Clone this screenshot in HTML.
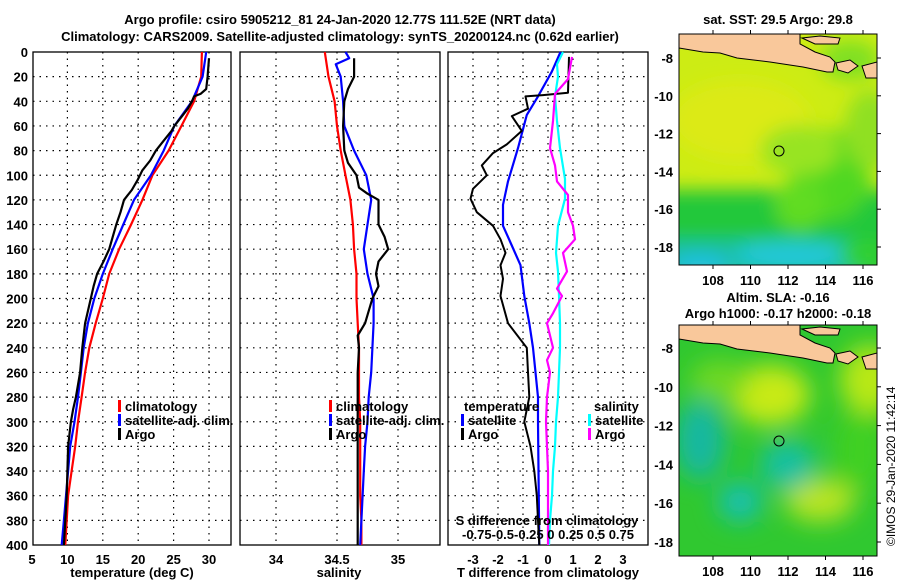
<!DOCTYPE html>
<html><head><meta charset="utf-8">
<style>
html,body{margin:0;padding:0;background:#fff;}
svg{display:block;font-family:"Liberation Sans",Arial,sans-serif;font-weight:bold;}
text{font-size:13px;fill:#000;}
</style></head>
<body>
<svg id="chart" width="900" height="580" viewBox="0 0 900 580">
<defs>
<filter id="blur1" x="-20%" y="-20%" width="140%" height="140%"><feGaussianBlur stdDeviation="9"/></filter>
<filter id="blur2" x="-20%" y="-20%" width="140%" height="140%"><feGaussianBlur stdDeviation="12"/></filter>
<clipPath id="clipMap1"><rect x="679" y="34" width="198" height="231"/></clipPath>
<clipPath id="clipMap2"><rect x="679" y="325" width="198" height="231"/></clipPath>
</defs>
<text x="340" y="24" text-anchor="middle">Argo profile: csiro 5905212_81 24-Jan-2020 12.77S 111.52E (NRT data)</text>
<text x="340" y="41" text-anchor="middle">Climatology: CARS2009. Satellite-adjusted climatology: synTS_20200124.nc (0.62d earlier)</text>

<g id="p1"></g>
<g id="p2"></g>
<g id="p3"></g>

<!-- Map 1 SST -->
<g>
<text x="778" y="24" text-anchor="middle">sat. SST: 29.5 Argo: 29.8</text>
<g clip-path="url(#clipMap1)">
<rect x="679" y="34" width="198" height="231" fill="#cdec14"/>
<g filter="url(#blur1)">
<ellipse cx="740" cy="120" rx="70" ry="40" fill="#dcea18"/>
<rect x="640" y="190" width="280" height="90" fill="#22c83a"/>
<ellipse cx="830" cy="175" rx="40" ry="45" fill="#50d820"/>
<ellipse cx="800" cy="205" rx="25" ry="25" fill="#60dc20"/>
<ellipse cx="800" cy="150" rx="40" ry="25" fill="#98e420"/>
<ellipse cx="870" cy="130" rx="25" ry="40" fill="#90e020"/>
<ellipse cx="850" cy="60" rx="30" ry="20" fill="#80e020"/>
<rect x="660" y="240" width="200" height="40" fill="#18c0a0"/>
<ellipse cx="790" cy="255" rx="55" ry="14" fill="#20c8d8"/>
<ellipse cx="700" cy="265" rx="30" ry="12" fill="#20c0e0"/>
<ellipse cx="865" cy="255" rx="25" ry="15" fill="#30d030"/>
</g>
<path d="M679,34 L800,34 L800,44 L815,52 L830,57 L835,62 L833,72 L827,72 L803,67 L770,62 L737,58 L720,53 L703,52 L679,48 Z" fill="#f9c89b" stroke="#000" stroke-width="1"/>
<path d="M802,38 L820,36 L840,38 L838,44 L815,44 Z" fill="#f9c89b" stroke="#000" stroke-width="1"/>
<path d="M836,63 L850,60 L858,66 L848,73 L838,70 Z" fill="#f9c89b" stroke="#000" stroke-width="1"/>
<path d="M862,66 L877,62 L877,78 L866,78 Z" fill="#f9c89b" stroke="#000" stroke-width="1"/>
</g>
<rect x="679" y="34" width="198" height="231" fill="none" stroke="#000" stroke-width="1"/>
<circle cx="779" cy="151" r="5" fill="none" stroke="#000" stroke-width="1"/>
<g id="m1ticks"></g>
</g>

<!-- Map 2 SLA -->
<g>
<text x="778" y="302" text-anchor="middle">Altim. SLA: -0.16</text>
<text x="778" y="318" text-anchor="middle">Argo h1000: -0.17 h2000: -0.18</text>
<g clip-path="url(#clipMap2)">
<rect x="679" y="325" width="198" height="231" fill="#30c830"/>
<g filter="url(#blur2)">
<ellipse cx="770" cy="395" rx="40" ry="30" fill="#c8ea18"/>
<ellipse cx="870" cy="380" rx="30" ry="35" fill="#b8e818"/>
<ellipse cx="720" cy="380" rx="30" ry="20" fill="#70d820"/>
<ellipse cx="820" cy="500" rx="35" ry="22" fill="#b8e420"/>
<ellipse cx="788" cy="465" rx="28" ry="25" fill="#18c0a0"/>
<ellipse cx="740" cy="502" rx="22" ry="20" fill="#18c0b0"/>
<ellipse cx="700" cy="440" rx="25" ry="40" fill="#18b8a0"/>
<ellipse cx="860" cy="450" rx="25" ry="40" fill="#40d020"/>
</g>
<path d="M679,325 L800,325 L800,335 L815,343 L830,348 L835,353 L833,363 L827,363 L803,358 L770,353 L737,349 L720,344 L703,343 L679,339 Z" fill="#f9c89b" stroke="#000" stroke-width="1"/>
<path d="M802,329 L820,327 L840,329 L838,335 L815,335 Z" fill="#f9c89b" stroke="#000" stroke-width="1"/>
<path d="M836,354 L850,351 L858,357 L848,364 L838,361 Z" fill="#f9c89b" stroke="#000" stroke-width="1"/>
<path d="M862,357 L877,353 L877,369 L866,369 Z" fill="#f9c89b" stroke="#000" stroke-width="1"/>
</g>
<rect x="679" y="325" width="198" height="231" fill="none" stroke="#000" stroke-width="1"/>
<circle cx="779" cy="441" r="5" fill="none" stroke="#000" stroke-width="1"/>
<g id="m2ticks"></g>
</g>
<text transform="translate(895,546) rotate(-90)" style="font-weight:normal;font-size:12px">©IMOS 29-Jan-2020 11:42:14</text>
</svg>
<script>
// ---------- data ----------
const depthTicks = [0,20,40,60,80,100,120,140,160,180,200,220,240,260,280,300,320,340,360,380,400];
const tempTicks = [5,10,15,20,25,30];
const salTicks = [34,34.5,35];
const salTickLabels = ["34","34.5","35"];
const diffTicks = [-3,-2,-1,0,1,2,3];

const climDepth = [0,20,40,60,80,100,120,140,160,180,200,220,240,260,280,300,320,340,360,380,400];
const climTemp  = [29.0,28.9,27.9,26.1,24.3,22.0,20.6,19.0,17.3,15.9,15.0,14.0,13.1,12.5,12.0,11.5,11.1,10.6,10.1,9.9,9.7];
const satTemp   = [29.6,29.1,27.6,25.1,23.6,21.8,19.4,17.9,16.4,15.0,13.8,12.9,12.3,11.9,11.5,11.0,10.4,10.1,9.8,9.5,9.2];
const argoDepth = [5,20,30,34,36,40,46,52,60,64,72,80,88,96,104,112,120,130,140,150,160,170,180,190,200,220,240,260,280,290,300,320,340,360,380,400];
const argoTemp  = [30.0,29.8,29.6,28.8,27.9,27.6,27.0,26.2,25.1,24.7,23.6,22.5,21.7,20.6,19.9,19.1,18.0,17.5,16.9,16.4,15.9,15.1,14.2,13.7,13.3,12.5,12.1,11.8,11.2,10.8,10.5,10.1,10.0,9.9,9.7,9.5];

const climSal  = [34.40,34.43,34.48,34.50,34.53,34.57,34.61,34.63,34.64,34.66,34.66,34.67,34.68,34.68,34.68,34.69,34.69,34.69,34.69,34.70,34.70];
const satSalDepth = [0,5,10,20,40,60,80,100,120,140,160,180,200,220,240,260,280,300,320,340,360,380,400];
const satSal   = [34.57,34.60,34.49,34.53,34.55,34.56,34.64,34.74,34.78,34.75,34.72,34.75,34.80,34.80,34.79,34.78,34.76,34.75,34.73,34.72,34.71,34.70,34.69];
const argoSalDepth = [5,20,30,40,60,80,90,100,110,115,120,140,150,160,170,180,190,200,220,230,240,260,280,300,320,340,360,380,400];
const argoSal  = [34.64,34.64,34.59,34.56,34.55,34.56,34.59,34.66,34.68,34.75,34.84,34.84,34.89,34.92,34.84,34.82,34.84,34.79,34.73,34.67,34.68,34.67,34.67,34.67,34.67,34.67,34.67,34.67,34.67];

const dTDepthSat = [0,16,36,51,78,105,124,141,157,173,198,220,240,260,280,300,340,400];
const dTSat      = [0.5,0.15,-0.4,-0.85,-1.2,-1.6,-1.8,-1.8,-1.45,-1.1,-0.95,-0.75,-0.6,-0.5,-0.4,-0.4,-0.38,-0.35];
const dTDepthArgo = [4,33,35,36,46,52,64,75,82,92,100,111,119,130,141,152,163,173,184,198,220,240,260,280,300,320,340,360,380,400];
const dTArgo      = [0.84,0.8,-0.2,-0.9,-0.8,-1.45,-1.05,-1.65,-2.2,-2.65,-2.45,-3.0,-3.1,-2.85,-2.2,-1.9,-1.7,-1.9,-1.8,-1.9,-1.6,-0.85,-0.8,-0.75,-0.95,-0.7,-0.55,-0.45,-0.4,-0.35];
const dSDepthSat = [0,10,20,36,56,78,103,119,141,163,178,198,220,240,260,280,300,320,340,360,380,400];
const dSSat      = [0.15,0.09,0.1,0.07,0.09,0.12,0.17,0.17,0.10,0.08,0.10,0.11,0.12,0.12,0.11,0.10,0.08,0.07,0.05,0.04,0.02,0.01];
const dSDepthArgo = [4,22,34,56,78,92,105,116,130,141,152,163,178,192,198,212,220,240,250,260,280,300,320,340,360,380,400];
const dSArgo      = [0.24,0.2,0.07,0.05,0.02,0.07,0.09,0.2,0.2,0.25,0.27,0.15,0.19,0.09,0.14,0.05,-0.01,0.05,-0.01,0.02,-0.01,-0.02,-0.01,0,0,0,0];

const mapLonTicks = [108,110,112,114,116];
const mapLatTicks = [-8,-10,-12,-14,-16,-18];

// ---------- axes ----------
const NS='http://www.w3.org/2000/svg';
const TOP=52, BOT=545;
function yD(d){return TOP+(d/400)*(BOT-TOP);}
function xT(t){return 32+(t-5)*7.08;}
function xS(s){return 276+(s-34)*122;}
function xDT(v){return 548+v*25;}
function xDS(v){return 548+v*100;}
function mk(tag,attrs,parent){const e=document.createElementNS(NS,tag);for(const k in attrs)e.setAttribute(k,attrs[k]);parent.appendChild(e);return e;}
function txt(parent,x,y,s,anchor,extra){const t=mk('text',Object.assign({x:x,y:y,'text-anchor':anchor||'middle'},extra||{}),parent);t.textContent=s;return t;}

function panel(g,x0,x1,xticks,xfn,labels){
  for(const d of depthTicks){ if(d===0||d===400)continue;
    const l=mk('line',{x1:x0,x2:x1,y1:yD(d),y2:yD(d),stroke:'#000','stroke-width':1.2,'stroke-dasharray':'1.5,5'},g);
    
    
  }
  xticks.forEach((t,i)=>{
    const x=xfn(t);
    if(x>x0+2&&x<x1-2){
      const l=mk('line',{x1:x,x2:x,y1:TOP,y2:BOT,stroke:'#000','stroke-width':1.2,'stroke-dasharray':'1.5,5'},g);
      
      
    }
    const tl=txt(g,x,564,labels?labels[i]:String(t));
    
    
  });
  const r=mk('rect',{x:x0,y:TOP,width:x1-x0,height:BOT-TOP,fill:'none',stroke:'#000','stroke-width':1.3},g);
  
  
}
function series(g,depths,vals,xfn,color,name,w){
  const pts=depths.map((d,i)=>xfn(vals[i]).toFixed(1)+','+yD(d).toFixed(1)).join(' ');
  const p=mk('polyline',{points:pts,fill:'none',stroke:color,'stroke-width':w||2.2,'stroke-linejoin':'round'},g);
  
  
}
function legend(g,x,y,color,label){
  const m=mk('rect',{x:x,y:y-11,width:3,height:12,fill:color},g);
  
  
  const t=txt(g,x+7,y,label,'start');
  
  
}

// panel 1
const p1=document.getElementById('p1');
panel(p1,33,231,tempTicks,xT);
depthTicks.forEach(d=>{const t=txt(p1,28,yD(d)+5,String(d),'end');
  
  });
series(p1,climDepth,climTemp,xT,'#ff0000','climatology-temperature-line');
series(p1,climDepth,satTemp,xT,'#0000ff','satellite-temperature-line');
series(p1,argoDepth,argoTemp,xT,'#000000','argo-temperature-line');
legend(p1,118,411,'#ff0000','climatology');
legend(p1,118,425,'#0000ff','satellite-adj. clim.');
legend(p1,118,439,'#000000','Argo');
let at=txt(p1,132,577,'temperature (deg C)');

// panel 2
const p2=document.getElementById('p2');
panel(p2,240,440,salTicks,xS,salTickLabels);
series(p2,climDepth,climSal,xS,'#ff0000','climatology-salinity-line');
series(p2,satSalDepth,satSal,xS,'#0000ff','satellite-salinity-line');
series(p2,argoSalDepth,argoSal,xS,'#000000','argo-salinity-line');
legend(p2,329,411,'#ff0000','climatology');
legend(p2,329,425,'#0000ff','satellite-adj. clim.');
legend(p2,329,439,'#000000','Argo');
at=txt(p2,339,577,'salinity');

// panel 3
const p3=document.getElementById('p3');
panel(p3,448,648,diffTicks,xDT);
series(p3,dTDepthSat,dTSat,xDT,'#0000ff','satellite-t-diff-line');
series(p3,dTDepthArgo,dTArgo,xDT,'#000000','argo-t-diff-line',2);
series(p3,dSDepthSat,dSSat,xDS,'#00ffff','satellite-s-diff-line');
series(p3,dSDepthArgo,dSArgo,xDS,'#ff00ff','argo-s-diff-line');
let t3=txt(p3,464,411,'temperature','start');
legend(p3,461,425,'#0000ff','satellite');
legend(p3,461,439,'#000000','Argo');
t3=txt(p3,594,411,'salinity','start');
legend(p3,588,425,'#00ffff','satellite');
legend(p3,588,439,'#ff00ff','Argo');
t3=txt(p3,547,525,'S difference from climatology');
t3=txt(p3,548,539,'-0.75-0.5-0.25  0   0.25 0.5 0.75');
at=txt(p3,548,577,'T difference from climatology');

// map ticks
function mapTicks(id,top,bot,lat8y,latScale){
  const g=document.getElementById(id);
  mapLonTicks.forEach(lon=>{const x=713+(lon-108)*18.75;
    mk('line',{x1:x,x2:x,y1:top,y2:top-4,stroke:'#000'},g);
    mk('line',{x1:x,x2:x,y1:bot,y2:bot+4,stroke:'#000'},g);
    const t=txt(g,x,bot+20,String(lon));
    
    
  });
  mapLatTicks.forEach(lat=>{const y=lat8y+(-8-lat)*latScale;
    mk('line',{x1:877,x2:881,y1:y,y2:y,stroke:'#000'},g);
    const t=txt(g,673,y+5,String(lat),'end');
    
    
  });
}
mapTicks('m1ticks',34,265,58,18.9);
mapTicks('m2ticks',325,556,348,19.4);
</script>
</body></html>
